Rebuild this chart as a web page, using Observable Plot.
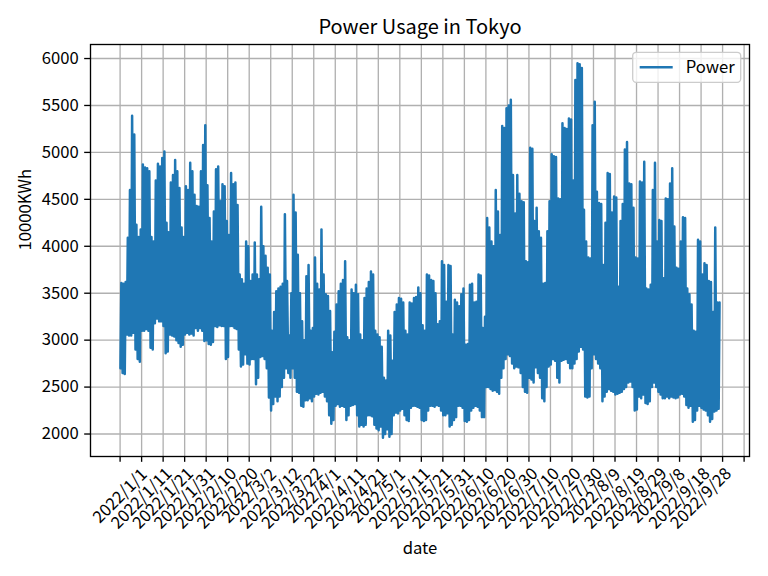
<!DOCTYPE html>
<html><head><meta charset="utf-8">
<script src="https://cdn.jsdelivr.net/npm/d3@7"></script>
<script src="https://cdn.jsdelivr.net/npm/@observablehq/plot@0.6"></script>
<style>body{margin:0;background:#fff}</style>
</head><body><div id="chart"></div>
<script>
// Daily peak (afternoon) and daily trough (night) of hourly power usage, 10000KWh, from 2022/1/1
const dayMax = [
3610,3600,3620,4090,4600,5390,5190,4230,4100,4180,
4870,4840,4830,4800,4100,4050,4700,4880,4850,4940,
5010,4250,4150,4680,4760,4920,4800,4620,4200,4100,
4640,4600,4890,4800,4550,4430,4420,4800,5080,5290,
4650,4300,4050,4370,4820,4850,4480,4660,4640,4270,
4120,4780,4660,4680,4440,3700,3650,3600,4050,4000,
3630,3700,4040,3700,3650,4420,4000,3900,3770,3700,
3100,3300,3520,3550,3570,3600,4340,3630,3050,3500,
4550,4360,3910,3500,3200,3000,3680,3800,3100,3130,
3880,3600,3540,4180,3700,3490,3470,3310,2870,3090,
3380,3520,3600,3640,3840,3030,3000,3540,3500,3590,
3490,3060,3000,3450,3550,3620,3730,3700,3100,3060,
3030,2930,2600,2570,3100,3050,2780,3300,3380,3450,
3440,3400,3100,3060,3400,3390,3450,3460,3560,3500,
3160,3100,3700,3690,3640,3630,3500,3170,3200,3840,
3800,3410,3800,3790,3060,3430,3400,3360,3490,3550,
2950,2960,3590,3600,3400,3410,3700,3690,3130,3250,
4300,4200,4050,4000,4600,4370,4120,5280,5260,5470,
5500,5560,4760,4350,4760,4560,4480,4470,3840,3830,
5050,5040,4270,4410,4160,4090,3600,3610,4160,4480,
4980,4960,4950,4510,4500,5310,5260,5250,5360,5350,
4700,5770,5950,5940,5900,4390,4050,3880,3870,5290,
5540,4580,4460,4450,3800,4250,4780,4770,4360,4530,
4520,3570,4270,4450,5030,5110,4670,4660,4410,3880,
3870,4690,4680,4900,3550,3540,3590,4600,4890,4050,
4280,4270,3660,4510,4500,4670,4830,4210,3770,3760,
4050,4310,4300,3550,3490,3380,3100,3090,4070,4050,
3700,3820,3800,3630,3620,3300,4200,3400,3400
];
const dayMin = [
2700,2650,2640,3060,3050,3050,3080,2900,2800,2770,
3100,3100,3120,3100,2920,2900,3180,3230,3200,3200,
3150,2860,2880,3060,3050,3040,3000,2970,2930,2950,
3060,3080,3060,3070,3050,3130,3100,3130,3100,2990,
3000,2960,2950,2980,3150,3140,3160,3150,3150,2800,
2820,3150,3150,3130,3120,2900,2720,2740,2850,2750,
2740,2800,2800,2530,2600,2820,2830,2800,2700,2390,
2250,2320,2400,2350,2400,2500,2600,2700,2650,2600,
2700,2600,2450,2440,2300,2290,2360,2360,2380,2350,
2400,2430,2420,2440,2450,2400,2350,2200,2110,2150,
2300,2320,2290,2300,2290,2150,2200,2300,2310,2320,
2200,2080,2100,2080,2100,2200,2200,2190,2100,2060,
2040,2080,1960,2000,2050,1970,2000,2200,2230,2220,
2250,2270,2200,2150,2140,2280,2300,2300,2290,2280,
2150,2140,2150,2250,2300,2300,2290,2310,2300,2250,
2200,2200,2220,2080,2100,2150,2180,2300,2300,2280,
2140,2130,2150,2250,2280,2300,2290,2250,2180,2180,
2500,2500,2480,2460,2470,2450,2430,2600,2700,2800,
2850,2830,2750,2700,2720,2710,2650,2500,2450,2440,
2600,2580,2550,2710,2650,2600,2380,2350,2500,2720,
2740,2800,2780,2600,2550,2780,2790,2800,2760,2700,
2700,2750,2800,2880,2930,2900,2400,2390,2400,2700,
2850,2800,2750,2700,2350,2400,2450,2480,2460,2450,
2420,2430,2440,2450,2480,2500,2550,2560,2500,2250,
2260,2400,2380,2420,2330,2320,2350,2500,2550,2500,
2450,2420,2380,2380,2400,2380,2400,2390,2380,2390,
2420,2430,2400,2310,2280,2300,2130,2150,2250,2300,
2280,2260,2250,2200,2130,2160,2240,2250,2270
];
const troughHour = 4, peakHour = 14;
const xTickDates = ["2022-01-01","2022-01-11","2022-01-21","2022-01-31","2022-02-10","2022-02-20",
"2022-03-02","2022-03-12","2022-03-22","2022-04-01","2022-04-11","2022-04-21","2022-05-01",
"2022-05-11","2022-05-21","2022-05-31","2022-06-10","2022-06-20","2022-06-30","2022-07-10",
"2022-07-20","2022-07-30","2022-08-09","2022-08-19","2022-08-29","2022-09-08","2022-09-18",
"2022-09-28","2022-10-08","2022-10-18"];
const xTickLabels = ["2022/1/1","2022/1/11","2022/1/21","2022/1/31","2022/2/10","2022/2/20",
"2022/3/2","2022/3/12","2022/3/22","2022/4/1","2022/4/11","2022/4/21","2022/5/1","2022/5/11",
"2022/5/21","2022/5/31","2022/6/10","2022/6/20","2022/6/30","2022/7/10","2022/7/20","2022/7/30",
"2022/8/9","2022/8/19","2022/8/29","2022/9/8","2022/9/18","2022/9/28"];
const yTicks = [2000,2500,3000,3500,4000,4500,5000,5500,6000];
const seriesName = "Power";

(function () {
const points = [];
dayMax.forEach((mx, i) => {
  points.push({t: new Date(Date.UTC(2022, 0, 1 + i, troughHour)), v: dayMin[i]});
  points.push({t: new Date(Date.UTC(2022, 0, 1 + i, peakHour)), v: mx});
});
const tExt = d3.extent(points, d => +d.t), vExt = d3.extent(points, d => d.v);
const tPad = (tExt[1] - tExt[0]) * 0.05, vPad = (vExt[1] - vExt[0]) * 0.05;
const ticks = xTickDates.map(s => new Date(s + "T00:00:00Z"));
const labelData = xTickLabels.map((s, i) => ({t: ticks[i], label: s}));

const W = 768, H = 576, mL = 90, mR = 19, mT = 44, mB = 120, FS = 16.67;
const blue = "#1f77b4";
const chart = Plot.plot({
  width: W, height: H, marginLeft: mL, marginRight: mR, marginTop: mT, marginBottom: mB,
  style: {fontFamily: "'Noto Sans CJK JP', 'Noto Sans', sans-serif", background: "white", color: "black"},
  x: {type: "utc", domain: [new Date(tExt[0] - tPad), new Date(tExt[1] + tPad)]},
  y: {domain: [vExt[0] - vPad, vExt[1] + vPad]},
  marks: [
    Plot.gridX(ticks, {stroke: "#b0b0b0", strokeOpacity: 1, strokeWidth: 1.33}),
    Plot.gridY(yTicks, {stroke: "#b0b0b0", strokeOpacity: 1, strokeWidth: 1.33}),
    Plot.line(points, {x: "t", y: "v", stroke: blue, strokeWidth: 2.5}),
    Plot.frame({stroke: "black", strokeWidth: 1.33}),
    Plot.axisY({ticks: yTicks, tickSize: 5.83, tickPadding: 5.83, fontSize: FS, strokeWidth: 1.33, label: null, tickFormat: d => `${d}`}),
    Plot.axisX({ticks: ticks, tickSize: 5.83, strokeWidth: 1.33, label: null, tickFormat: () => ""}),
    Plot.text(labelData.filter(d => d.label.length === 8), {x: "t", text: "label", frameAnchor: "bottom", rotate: -45, textAnchor: "middle", lineAnchor: "middle", dy: 39.5, fontSize: FS}),
    Plot.text(labelData.filter(d => d.label.length === 9), {x: "t", text: "label", frameAnchor: "bottom", rotate: -45, textAnchor: "middle", lineAnchor: "middle", dy: 42, fontSize: FS}),
    Plot.text(["Power Usage in Tokyo"], {frameAnchor: "top", dy: -17, lineAnchor: "middle", fontSize: 20}),
    Plot.text(["date"], {frameAnchor: "bottom", dy: 92, lineAnchor: "middle", fontSize: FS}),
    Plot.text(["10000KWh"], {frameAnchor: "left", dx: -65, rotate: -90, lineAnchor: "middle", fontSize: FS})
  ]
});
document.getElementById("chart").appendChild(chart);

// legend (upper right, matplotlib style)
const svg = d3.select(chart);
const frameRight = W - mR, frameTop = mT;
const boxW = 108, boxH = 30, pad = 8.3;
const bx = frameRight - pad - boxW, by = frameTop + pad;
const lg = svg.append("g");
lg.append("rect").attr("x", bx).attr("y", by).attr("width", boxW).attr("height", boxH)
  .attr("rx", 3.5).attr("fill", "white").attr("fill-opacity", 0.8).attr("stroke", "#cccccc").attr("stroke-width", 1.3);
lg.append("line").attr("x1", bx + 7).attr("x2", bx + 40).attr("y1", by + boxH / 2).attr("y2", by + boxH / 2)
  .attr("stroke", blue).attr("stroke-width", 2.5);
lg.append("text").attr("x", bx + 53).attr("y", by + boxH / 2).attr("dy", "0.35em")
  .attr("text-anchor", "start").attr("font-size", FS).attr("fill", "black").text(seriesName);
})();
</script>
</body></html>
